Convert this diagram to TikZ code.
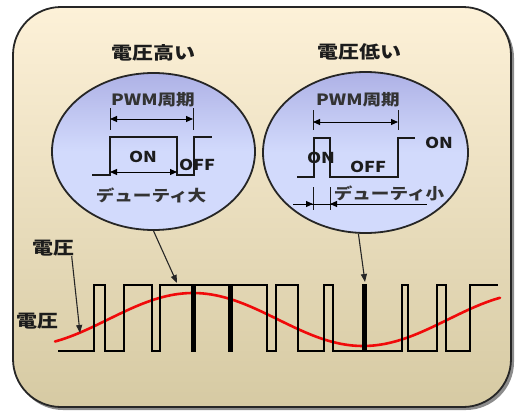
\documentclass[tikz,border=0pt]{standalone}
\usepackage{fontspec}
\setmainfont{Noto Sans CJK JP}[FakeStretch=1.2]
\usetikzlibrary{shapes.geometric,arrows.meta}
\definecolor{bgtop}{RGB}{253,241,216}
\definecolor{bgbot}{RGB}{214,202,163}
\definecolor{etop}{RGB}{145,145,212}
\definecolor{elt}{RGB}{210,218,252}
\definecolor{egrn}{RGB}{176,194,170}
\definecolor{ebot}{RGB}{148,176,138}
\definecolor{txt}{RGB}{28,28,28}
\definecolor{sinred}{RGB}{240,10,10}
\pgfdeclareverticalshading{ellsh}{100bp}{color(0bp)=(ebot); color(5bp)=(ebot); color(12bp)=(egrn); color(20bp)=(elt); color(50bp)=(elt); color(95bp)=(etop); color(100bp)=(etop)}
\begin{document}
\begin{tikzpicture}[x=1pt,y=-1pt,
  ell/.style={ellipse, draw=black!85, line width=1.8pt, shading=ellsh, inner sep=0pt},
  ttl/.style={font=\fontsize{17.5}{17.5}\selectfont\bfseries, text=txt, inner sep=0pt},
  lbl/.style={font=\fontsize{15.5}{15.5}\selectfont\bfseries, text=black!80, inner sep=0pt},
  lblb/.style={font=\fontsize{15}{15}\selectfont\bfseries, text=txt, inner sep=0pt},
  sig/.style={draw=black!90, line width=1.4pt},
  tick/.style={draw=black!90, line width=1pt},
  dimarr/.style={line width=1pt, {Triangle[length=7pt,width=6pt]}-{Triangle[length=7pt,width=6pt]}},
  onearr/.style={line width=1pt, -{Triangle[length=7pt,width=6pt]}},
  conn/.style={draw=black!85, line width=1.1pt, -{Triangle[length=8pt,width=6pt]}}
]
\useasboundingbox (0,0) rectangle (516,415);
% frame
\fill[black!45, rounded corners=48pt] (15,10) rectangle (514,410);
\draw[line width=1.8pt, draw=black!85, top color=bgtop, bottom color=bgbot, rounded corners=48pt] (13,7) rectangle (511,407);

% titles
\node[ttl] (t1) at (153,53) {電圧高い};
\node[ttl] (t2) at (359,52) {電圧低い};

% ellipses
\node[ell, minimum width=203pt, minimum height=157pt] (L) at (153.5,151.5) {};
\node[ell, minimum width=205pt, minimum height=161pt] (R) at (365.5,152.5) {};

% left ellipse content
\node[lbl] (pl) at (153,100) {PWM周期};
\draw[tick] (110,108) -- (110,130);
\draw[tick] (193,108) -- (193,130);
\draw[dimarr] (110,119) -- (193,119);
\draw[sig] (92,175) -- (110,175) -- (110,137) -- (177,137) -- (177,175) -- (194,175) -- (194,137) -- (212,137);
\draw[dimarr] (110,172) -- (177,172);
\node[lblb] (onl) at (143,157) {ON};
\node[lblb] (offl) at (197,165) {OFF};
\node[lbl] (dl) at (151,195) {デューティ大};

% right ellipse content
\node[lbl] (pr) at (358,100) {PWM周期};
\draw[tick] (313,110) -- (313,130);
\draw[tick] (398,110) -- (398,130);
\draw[dimarr] (313,122) -- (398,122);
\draw[sig] (297,177) -- (314,177) -- (314,138) -- (330,138) -- (330,177) -- (398,177) -- (398,138) -- (415,138);
\draw[tick] (313,187) -- (313,210);
\draw[tick] (330,187) -- (330,210);
\draw[line width=1pt] (293,204) -- (427,204);
\draw[onearr] (295,204) -- (313,204);
\draw[onearr] (348,204) -- (330,204);
\node[lblb] (onr1) at (321,158) {ON};
\node[lblb] (offr) at (368,167) {OFF};
\node[lblb] (onr2) at (439,143) {ON};
\node[lbl] (dr) at (389,193) {デューティ小};

% sine
\draw[sinred, line width=2.6pt, line cap=round] plot[smooth, samples=70, domain=55:500] (\x, {319.5-26.5*cos((\x-193)*1.0588)});

% pwm waveform
\draw[draw=black, line width=2.4pt, line join=miter] (58,351) -- (94,351) -- (94,285) -- (105,285) -- (105,351) -- (124,351) -- (124,285) -- (152,285) -- (152,351) -- (160,351) -- (160,285) -- (192.5,285) -- (192.5,351) -- (194.5,351) -- (194.5,285) -- (229.5,285) -- (229.5,351) -- (231.5,351) -- (231.5,285) -- (267,285) -- (267,351) -- (276,351) -- (276,285) -- (298,285) -- (298,351) -- (324,351) -- (324,285) -- (333,285) -- (333,351) -- (363.5,351) -- (363.5,285) -- (365.5,285) -- (365.5,351) -- (402,351) -- (402,285) -- (408,285) -- (408,351) -- (437,351) -- (437,285) -- (446,285) -- (446,351) -- (470,351) -- (470,285) -- (498,285);

% labels
\node[ttl] (v1) at (53.5,248) {電圧};
\node[ttl] (v2) at (37.5,321) {電圧};

% connectors
\coordinate (pL) at (177,283);
\coordinate (pR) at (365,282);
\coordinate (pV) at (80,333);
\draw[conn] (L.south) -- (pL);
\draw[conn] (R.265) -- (pR);
\draw[conn] ([xshift=-3pt]v1.south east) -- (pV);
\end{tikzpicture}
\end{document}
